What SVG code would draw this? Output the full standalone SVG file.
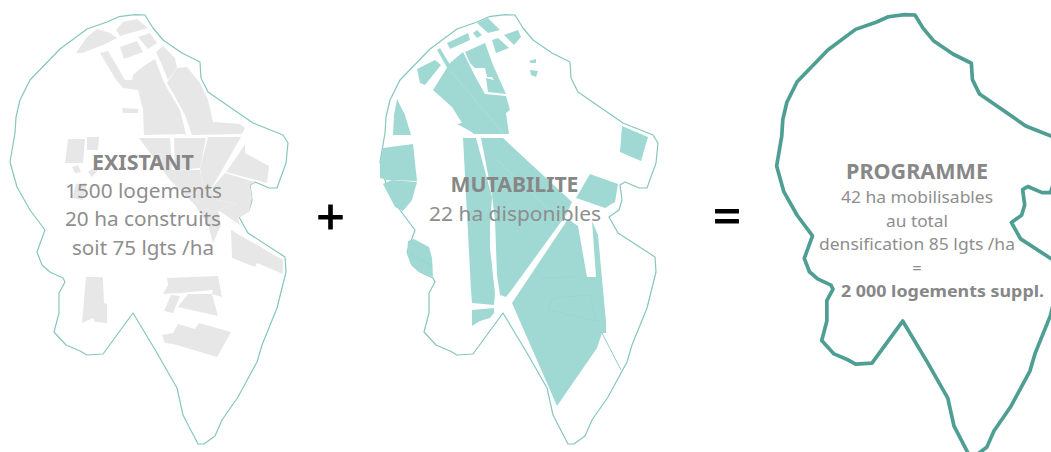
<svg xmlns="http://www.w3.org/2000/svg" width="1051" height="452" viewBox="0 0 1051 452">
<style>
.g{fill:#e6e7e6;stroke:none}
.t{fill:#a0d9d3;stroke:none}
.f{fill:none;stroke:#96d1ca;stroke-width:.6}
.l{fill:none;stroke:#86c6be;stroke-width:.9}
.w{fill:none;stroke:#b4e2dd;stroke-width:.6}
text{font-family:"Noto Sans","Open Sans","Liberation Sans",sans-serif;text-anchor:middle;fill:#8e8e8e}
.b{font-weight:700;fill:#878787}
.s{fill:#000;stroke:#000;stroke-width:.9}
</style>
<defs>
<path id="outline" fill="none" stroke-linejoin="round" d="M145 15L135 14.7 119 16.7 107 22 87 29 60 49 30 80 20 100 16 117 15 133 10 162 17 187 30 210 45 230 37 252 42 265 50 272 63 278 65 282 59 293 59 313 54 332 66 345 80 351 87 355 103 354 133 313 157 353 177 388 183 415 198 444 204 444 215 436 222 420 238 397 257 362 262 345 277 308 286 272 285 257 248 233 239 217 249 210 252 200 250 185 255 182 269 188 277 188 286 163 288 143 283 135 253 123 208 92 201 78 200 62 182 53 163 40 153 28Z"/>
</defs>
<g id="existant">
<use href="#outline" stroke="#86c6be" stroke-width="1.2"/>
<g>
<polygon class="g" points="76,53 87,37 97,29 110,33 117,38 103,45 82,53"/>
<polygon class="g" points="116,30 123,22 137,19 148,28 120,36"/>
<polygon class="g" points="138,37 150,33 157,43 148,49"/>
<polygon class="g" points="120,47 137,41 143,52 124,59"/>
<polygon class="g" points="156,52 163,46 175,58 177,68 168,80 162,65"/>
<polygon class="g" points="100,53 108,51 118,68 125,80 132,80 133,75 145,65 155,59 163,80 167,88 180,110 186,134 144,135 143,110 138,90 123,88 115,78"/>
<polygon class="g" points="167,83 177,68 187,67 200,83 208,100 213,122 240,124 245,128 242,134 192,135 185,115 173,93"/>
<polygon class="g" points="122,108 138,109 138,113 123,113"/>
<polygon class="g" points="139,138 170,138 172,170 200,170 203,187 212,190 218,200 237,204 218,210 221,225 213,243 208,225 195,205 170,180"/>
<polygon class="g" points="174,138 206,138 200,168 175,170"/>
<polygon class="g" points="208,137 241,137 222,170 212,187 203,187 200,168"/>
<polygon class="g" points="245,144 238,155 226,172 267,183 269,166 245,153"/>
<polygon class="g" points="225,173 255,182 250,185 252,198 249,212 238,218 240,225 218,210 237,204 218,200 212,188"/>
<polygon class="g" points="231,230 283,260 283,274 257,263 255,267 232,258"/>
<polygon class="g" points="86,277 102,277 103,279 104,303 107,304 107,323 95,322 93,318 82,323"/>
<polygon class="g" points="167,278 218,276 222,297 212,294 213,290 180,293 163,294 168,285"/>
<polygon class="g" points="171,295 180,296 173,313 164,311"/>
<polygon class="g" points="188,294 212,294 218,316 178,307"/>
<polygon class="g" points="178,324 195,329 199,323 231,332 217,357 173,344 165,343 162,335 173,333"/>
<polygon class="g" points="68,139 85,139 83,163 65,163"/>
<polygon class="g" points="87,137 99,137 98,150 87,150"/>
<polygon class="g" points="72,167 78,165 81,172 75,173"/>
<polygon class="g" points="88,172 95,167 100,168 92,177"/>
<polygon class="g" points="76,184 87,183 83,200 72,198"/>
</g>
<text class="b" x="143" y="170" font-size="21" textLength="102" lengthAdjust="spacingAndGlyphs">EXISTANT</text>
<text x="143.500" y="198" font-size="20" textLength="157" lengthAdjust="spacingAndGlyphs">1500 logements</text>
<text x="143" y="226" font-size="20" textLength="156" lengthAdjust="spacingAndGlyphs">20 ha construits</text>
<text x="143" y="255" font-size="20" textLength="142" lengthAdjust="spacingAndGlyphs">soit 75 lgts /ha</text>
</g>
<text id="plus" class="s" x="330.500" y="234" font-size="50">+</text>
<g id="mutabilite">
<use href="#outline" x="370" stroke="#86c6be" stroke-width="1.2"/>
<g>
<polygon class="t" points="477,23 488,18 500,30 488,33"/>
<polygon class="t" points="473,33 477,30 482,35 477,38"/>
<polygon class="t" points="447,43 468,33 470,40 450,49"/>
<polygon class="t" points="492,40 498,38 509,48 496,53"/>
<polygon class="t" points="504,35 518,30 521,37 514,45"/>
<polygon class="t" points="529,61 536,59 536,63 531,63"/>
<polygon class="t" points="530,70 538,71 536,77 531,75"/>
<polygon class="t" points="417,69 435,60 441,65 425,85 420,83"/>
<polygon class="t" points="437,50 440,48 452,68 449,71"/>
<polygon class="t" points="463,52 476,78 485,94 506,96 510,110 506,113 509,134 474,134 470,131 457,124 462,123 452,107 433,90 450,63"/>
<polygon class="t" points="465,52 485,43 493,65 506,94 488,92 486,78 494,80 492,77 487,77 485,68 475,68 470,63"/>
<polygon class="t" points="393,135 394,115 397,99 405,115 411,135"/>
<polygon class="t" points="383,148 413,144 417,181 387,180 380,178 380,162"/>
<polygon class="t" points="383,184 392,180 417,182 412,200 403,211 395,207"/>
<polygon class="t" points="622,126 648,137 641,161 620,152"/>
<polygon class="t" points="590,174 618,184 615,202 605,208 576,198"/>
<polygon class="t" points="463,138 476,138 492,197 490,225 490,248 495,293 494,305 472,303 471,290"/>
<polygon class="t" points="472,310 494,308 494,313 490,318 480,321 472,326"/>
<polygon class="t" points="481,138 503,138 572,202 566,215 513,288 506,297 500,295 497,275 495,220 492,195"/>
<polygon class="t" points="568,219 578,226 587,277 596,277 592,221 598,235 606,322 606,333 602,333 597,348 557,406 512,303"/>
<polygon class="t" points="408,241 414,239 429,247 432,258 433,277 419,272 411,264 407,253"/>
<path class="l" d="M602 333L621 370"/>
<path class="f" d="M433 266L410 254M536 270L542 278 575 277M553 298L590 295 596 321 548 310Z"/>
<path class="w" d="M450 70L503 133M495 158L562 222"/>
</g>
<text class="b" x="514.500" y="192" font-size="21" textLength="128" lengthAdjust="spacingAndGlyphs">MUTABILITE</text>
<text x="515" y="221" font-size="20" textLength="172" lengthAdjust="spacingAndGlyphs">22 ha disponibles</text>
</g>
<text id="equals" class="s" x="727" y="234" font-size="50">=</text>
<g id="programme">
<use href="#outline" transform="translate(915 15) scale(1.025 1.027) translate(-145 -15)" stroke="#4f9e94" stroke-width="3.6"/>
<text class="b" x="917" y="179" font-size="20.500" textLength="142" lengthAdjust="spacingAndGlyphs">PROGRAMME</text>
<text x="917" y="203" font-size="16.500" textLength="152" lengthAdjust="spacingAndGlyphs">42 ha mobilisables</text>
<text x="917" y="227" font-size="16.500" textLength="62" lengthAdjust="spacingAndGlyphs">au total</text>
<text x="917" y="250" font-size="16.500" textLength="196" lengthAdjust="spacingAndGlyphs">densification 85 lgts /ha</text>
<text x="917" y="274" font-size="16.500">=</text>
<text class="b" x="942.500" y="297" font-size="16.500" textLength="203" lengthAdjust="spacingAndGlyphs">2 000 logements suppl.</text>
</g>
</svg>
